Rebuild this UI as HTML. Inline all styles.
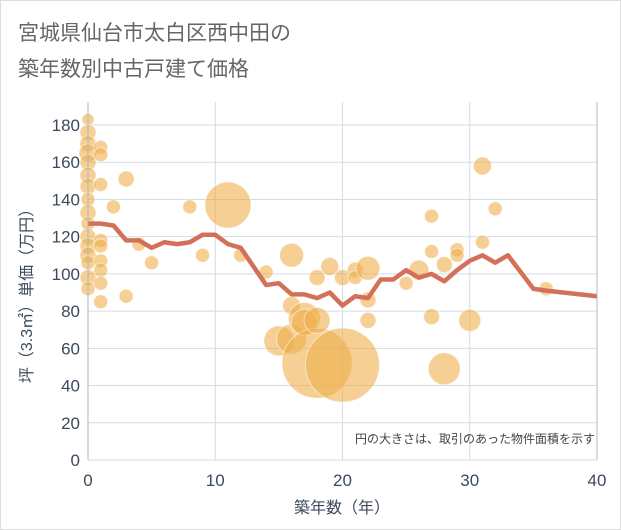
<!DOCTYPE html>
<html><head><meta charset="utf-8"><style>
body{margin:0;background:#fff;}
svg{display:block;font-family:"Liberation Sans","Noto Sans CJK JP",sans-serif;}
</style></head><body>
<svg width="621" height="530">
<rect x="0.5" y="0.5" width="620" height="529" fill="#fff" stroke="#ddd"/>
<text x="18" y="40" font-size="21" fill="#666">宮城県仙台市太白区西中田の</text>
<text x="18" y="76" font-size="21" fill="#666">築年数別中古戸建て価格</text>
<g id="grid"></g>
<g id="bubbles"></g>
<g id="line"></g>
<g id="axes"></g>
<text x="595" y="443" font-size="12" fill="#444" text-anchor="end">円の大きさは、取引のあった物件面積を示す</text>
<text x="342" y="513" font-size="16" fill="#3d4a5c" text-anchor="middle">築年数（年）</text>
<text transform="translate(32,292) rotate(-90)" font-size="16" fill="#3d4a5c" text-anchor="middle">坪（3.3㎡）単価（万円）</text>
</svg>
<script>
const xTicks=[0,10,20,30,40];
const yTicks=[0,20,40,60,80,100,120,140,160,180];
const lineYears=[0,1,2,3,4,5,6,7,8,9,10,11,12,13,14,15,16,17,18,19,20,21,22,23,24,25,26,27,28,29,30,31,32,33,34,35,36,40];
const linePrices=[127,127,126,118,118,114,117,116,117,121,121,116,114,104,94,95,89,89,87,90,83,88,87,97,97,102,98,100,96,102,107,110,106,110,101,92,91,88];
const bubbleYears=[0,0,0,0,0,0,0,0,0,0,0,0,0,0,0,0,1,1,1,1,1,1,1,1,1,2,3,3,4,5,8,9,11,12,14,15,16,16,16,17,17,18,18,18,19,20,20,21,21,22,22,22,25,26,27,27,27,28,28,29,29,30,31,31,32,36];
const bubblePrices=[183,176,170,165,160,153,147,140,133,127,120,115,110,106,98,92,168,164,148,118,115,107,102,95,85,136,151,88,116,106,136,110,137,110,101,64,65,110,83,76,74,52,75,98,104,51,98,102,98,103,86,75,95,102,131,112,77,49,105,113,110,75,158,117,135,92];
const bubbleSizes=[6,8,8,9,8,8,8,7,8,7,8,8,8,7,8,7,7,7,7,7,7,7,7,7,7,7,8,7,7,7,7,7,23,7,7,15,15,12,9,16,13,35,13,8,9,37,8,8,7,12,8,8,7,10,7,7,8,16,8,7,7,11,9,7,7,7];
const X=v=>88+v*(597-88)/40, Y=v=>460-v*(460-125)/180;
const NS="http://www.w3.org/2000/svg";
function mk(t,a,p){const e=document.createElementNS(NS,t);for(const k in a)e.setAttribute(k,a[k]);p.appendChild(e);return e;}
const grid=document.getElementById('grid');
yTicks.forEach(v=>{const l=mk('line',{x1:88,x2:597,y1:Y(v),y2:Y(v),stroke:'#d2dce8','stroke-width':1},grid);

});
xTicks.forEach(v=>{const l=mk('line',{x1:X(v),x2:X(v),y1:102,y2:460,stroke:'#d2dce8','stroke-width':1},grid);

});
const bg=document.getElementById('bubbles');
bubbleYears.forEach((v,i)=>{const c=mk('circle',{cx:X(v),cy:Y(bubblePrices[i]),r:bubbleSizes[i],fill:'rgba(238,175,75,0.6)',stroke:'rgba(255,255,255,0.5)','stroke-width':1},bg);

});
const pts=lineYears.map((v,i)=>X(v)+','+Y(linePrices[i])).join(' ');
const pl=mk('polyline',{points:pts,fill:'none',stroke:'#d4705a','stroke-width':4.5,'stroke-linejoin':'round'},document.getElementById('line'));


const ax=document.getElementById('axes');
const a1=mk('line',{x1:88,x2:88,y1:102,y2:460,stroke:'#aab8c8','stroke-width':1},ax);


const a2=mk('line',{x1:597,x2:597,y1:102,y2:460,stroke:'#aab8c8','stroke-width':1},ax);


yTicks.forEach(v=>{const t=mk('text',{x:80,y:Y(v)+6,'font-size':17,fill:'#3d4a5c','text-anchor':'end'},ax);t.textContent=v;

});
xTicks.forEach(v=>{const t=mk('text',{x:X(v),y:486,'font-size':17,fill:'#3d4a5c','text-anchor':'middle'},ax);t.textContent=v;

});
</script>
</body></html>
